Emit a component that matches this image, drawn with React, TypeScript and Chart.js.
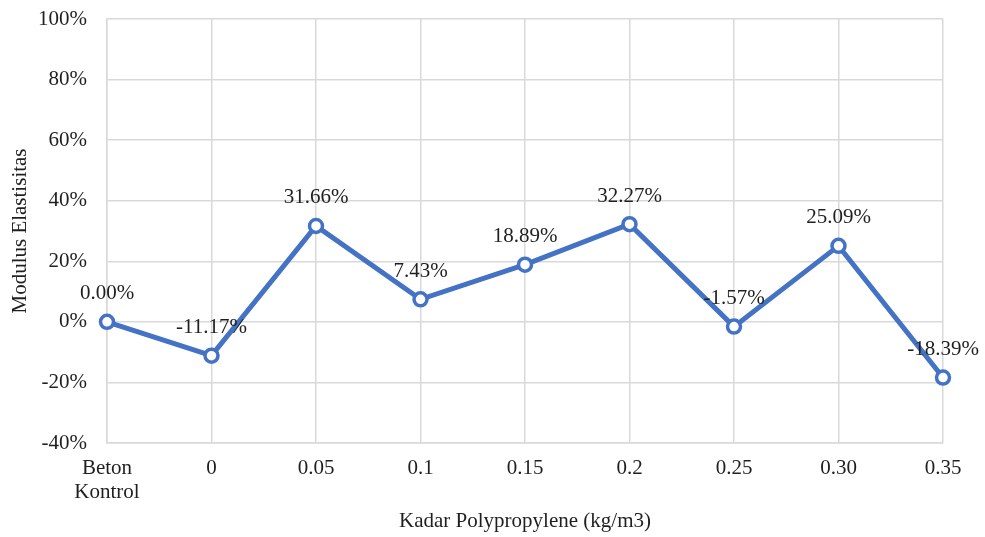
import React, { useEffect, useRef } from "react";
import { Chart, registerables } from "chart.js";

Chart.register(...registerables);

const categories: (string | string[])[] = [
  ["Beton", "Kontrol"],
  "0",
  "0.05",
  "0.1",
  "0.15",
  "0.2",
  "0.25",
  "0.30",
  "0.35",
];
const modulusChange = [0.0, -11.17, 31.66, 7.43, 18.89, 32.27, -1.57, 25.09, -18.39];
const yMin = -40;
const yMax = 100;
const yStep = 20;

const FONT = "'Liberation Serif', 'Times New Roman', serif";
const FONT_SIZE = 21;
const BLUE = "#4472C4";
const GRID = "#d9d9d9";
const TEXT = "#1f1f1f";

const valueLabels = {
  id: "valueLabels",
  afterDatasetsDraw(chart: any) {
    const ctx = chart.ctx;
    const meta = chart.getDatasetMeta(0);
    const values = chart.data.datasets[0].data as number[];
    ctx.save();
    ctx.font = `${FONT_SIZE}px ${FONT}`;
    ctx.fillStyle = TEXT;
    ctx.textAlign = "center";
    ctx.textBaseline = "middle";
    meta.data.forEach((pt: any, i: number) => {
      ctx.fillText(values[i].toFixed(2) + "%", pt.x, pt.y - 28);
    });
    ctx.restore();
  },
};

export default function App() {
  const canvasRef = useRef<HTMLCanvasElement | null>(null);

  useEffect(() => {
    if (!canvasRef.current) return;
    const chart = new Chart(canvasRef.current, {
      type: "line",
      data: {
        labels: categories,
        datasets: [
          {
            data: modulusChange,
            borderColor: BLUE,
            borderWidth: 5,
            pointRadius: 6.5,
            pointBorderWidth: 3.5,
            pointBackgroundColor: "#ffffff",
            pointBorderColor: BLUE,
            tension: 0,
          },
        ],
      },
      options: {
        animation: false,
        responsive: false,
        layout: { padding: { top: 19, right: 42, left: 0, bottom: 0 } },
        plugins: {
          legend: { display: false },
          tooltip: { enabled: false },
        },
        scales: {
          x: {
            offset: false,
            grid: { color: GRID, lineWidth: 1.5, drawTicks: false },
            border: { color: GRID, width: 1.5 },
            ticks: {
              color: TEXT,
              font: { family: FONT, size: FONT_SIZE, lineHeight: 1.15 },
              padding: 13,
              maxRotation: 0,
              autoSkip: false,
            },
            title: {
              display: true,
              text: "Kadar Polypropylene (kg/m3)",
              color: TEXT,
              font: { family: FONT, size: FONT_SIZE },
              padding: { top: 0, bottom: 3 },
            },
            afterFit(scale: any) {
              scale.height = 94;
            },
          },
          y: {
            min: yMin,
            max: yMax,
            grid: { color: GRID, lineWidth: 1.5, drawTicks: false },
            border: { color: GRID, width: 1.5 },
            ticks: {
              stepSize: yStep,
              color: TEXT,
              font: { family: FONT, size: FONT_SIZE },
              padding: 20,
              callback: (v: any) => `${v}%`,
            },
            title: {
              display: true,
              text: "Modulus Elastisitas",
              color: TEXT,
              font: { family: FONT, size: FONT_SIZE },
              padding: { top: 8, bottom: 0 },
            },
            afterFit(scale: any) {
              scale.width = 107;
              scale.paddingTop = 0;
              scale.paddingBottom = 0;
            },
          },
        },
      },
      plugins: [valueLabels],
    });
    return () => chart.destroy();
  }, []);

  return (
    <div style={{ position: "absolute", left: 0, top: 0, width: 985, height: 537, background: "#fff" }}>
      <canvas ref={canvasRef} width={985} height={537} style={{ display: "block" }} />
    </div>
  );
}
